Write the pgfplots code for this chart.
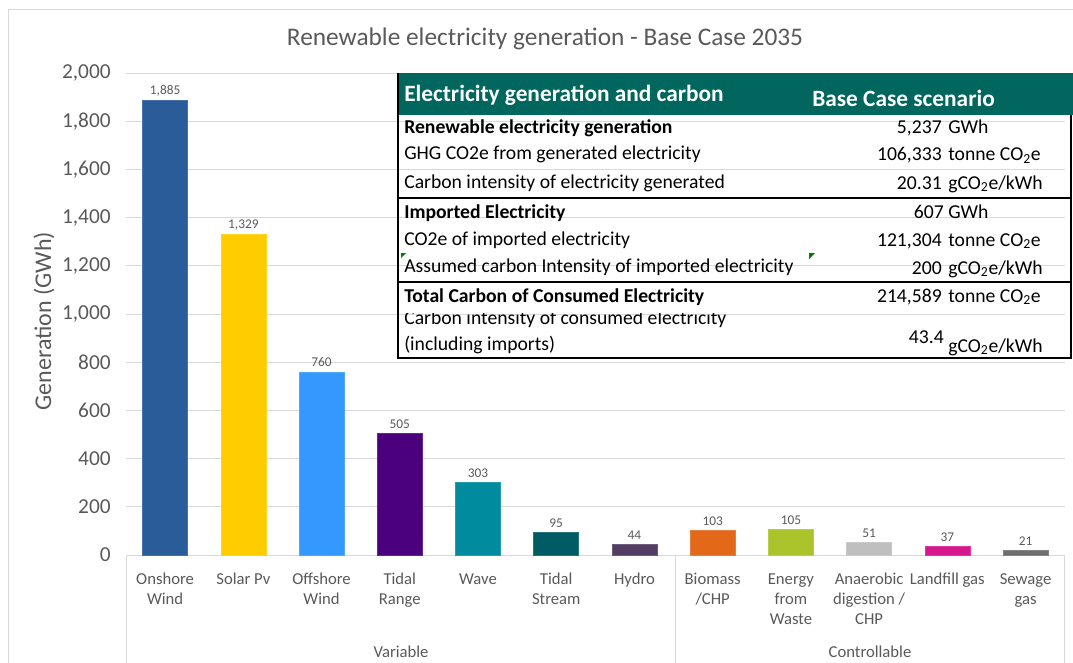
\documentclass[border=0pt]{standalone}
\usepackage{fontspec}
\setmainfont{Carlito}
\usepackage{pgfplots}
\pgfplotsset{compat=1.18}

\definecolor{txt}{RGB}{89,89,89}
\definecolor{gridc}{RGB}{217,217,217}
\definecolor{hdr}{RGB}{0,102,94}
\definecolor{cmt}{RGB}{0,128,0}
\definecolor{c1}{RGB}{42,92,154}
\definecolor{c2}{RGB}{255,204,0}
\definecolor{c3}{RGB}{51,153,255}
\definecolor{c4}{RGB}{75,0,126}
\definecolor{c5}{RGB}{0,140,158}
\definecolor{c6}{RGB}{0,92,100}
\definecolor{c7}{RGB}{82,62,100}
\definecolor{c8}{RGB}{226,104,26}
\definecolor{c9}{RGB}{172,196,44}
\definecolor{c10}{RGB}{191,191,191}
\definecolor{c11}{RGB}{214,24,140}
\definecolor{c12}{RGB}{110,110,110}

\begin{document}
\begin{tikzpicture}
\useasboundingbox (0,0) rectangle (804.75pt,-497.25pt);

\begin{axis}[at={(94.5pt,-416.25pt)}, anchor=south west,
    scale only axis, width=704pt, height=361.5pt,
    xmin=-0.5, xmax=11.5, ymin=0, ymax=2000,
    ybar, clip=false,
    every axis plot/.append style={bar shift=0pt, bar width=33.75pt, line width=0.5pt},
    axis line style={draw=none}, tick style={draw=none},
    ymajorgrids, grid style={gridc, line width=0.75pt},
    ytick={0,200,...,2000},
    /pgf/number format/1000 sep={,},
    /pgf/number format/assume math mode=true,
    yticklabel style={font=\fontsize{16}{19}\selectfont, text=txt, xshift=-8pt},
    xtick={0,...,11},
    xticklabels={Onshore\\Wind, Solar Pv, Offshore\\Wind, Tidal\\Range, Wave, Tidal\\Stream, Hydro,
        Biomass\\/CHP, Energy\\from\\Waste, Anaerobic\\digestion /\\CHP, Landfill gas, Sewage\\gas},
    xticklabel style={font=\fontsize{12.5}{15}\selectfont, text=txt, align=center, anchor=north, yshift=-6pt},
    nodes near coords,
    every node near coord/.append style={font=\fontsize{10}{12}\selectfont, text=txt},
]
\addplot[fill=c1, draw=c1!85!white] coordinates {(0,1885)};
\addplot[fill=c2, draw=c2!85!white] coordinates {(1,1329)};
\addplot[fill=c3, draw=c3!85!white] coordinates {(2,760)};
\addplot[fill=c4, draw=c4!85!white] coordinates {(3,505)};
\addplot[fill=c5, draw=c5!85!white] coordinates {(4,303)};
\addplot[fill=c6, draw=c6!85!white] coordinates {(5,95)};
\addplot[fill=c7, draw=c7!85!white] coordinates {(6,44)};
\addplot[fill=c8, draw=c8!85!white] coordinates {(7,103)};
\addplot[fill=c9, draw=c9!85!white] coordinates {(8,105)};
\addplot[fill=c10, draw=c10!85!white] coordinates {(9,51)};
\addplot[fill=c11, draw=c11!85!white] coordinates {(10,37)};
\addplot[fill=c12, draw=c12!85!white] coordinates {(11,21)};
\end{axis}

\begin{scope}[x=0.75pt,y=0.75pt]
% outer chart frame
\draw[gridc, line width=0.75pt] (8,-663) -- (8,-10) -- (1073,-10);

% category groups
\draw[gridc, line width=0.75pt] (126,-555) -- (126,-663) (675,-555) -- (675,-663) (1064.5,-555) -- (1064.5,-663);
\node[text=txt, font=\fontsize{12.5}{15}\selectfont] at (401,-652) {Variable};
\node[text=txt, font=\fontsize{12.5}{15}\selectfont] at (870,-652) {Controllable};

% titles
\node[text=txt, font=\fontsize{19}{22}\selectfont] at (545,-39) {Renewable electricity generation - Base Case 2035};
\node[text=txt, font=\fontsize{18}{21}\selectfont, rotate=90] at (44,-321) {Generation (GWh)};

% summary table
\fill[hdr] (398,-73) rectangle (1073,-115);
\node[anchor=west, inner sep=0, text=white, font=\bfseries\fontsize{17.5}{20}\selectfont] at (404,-95) {Electricity generation and carbon};
\node[anchor=west, inner sep=0, text=white, font=\bfseries\fontsize{17.5}{20}\selectfont] at (812,-98) {Base Case scenario};
\draw[black, line width=1pt] (398,-73) -- (398,-358) -- (1071,-358) -- (1071,-115);
\draw[black, line width=1pt] (398,-198) -- (1071,-198) (398,-282) -- (1071,-282);

\begin{scope}[every node/.style={inner sep=0, font=\fontsize{14.75}{17}\selectfont}]
\node[anchor=base west, font=\bfseries\fontsize{14.75}{17}\selectfont] at (404,-134) {Renewable electricity generation};
\node[anchor=base east] at (942,-134) {5,237};
\node[anchor=base west] at (948,-134) {GWh};
\node[anchor=base west] at (404,-160) {GHG CO2e from generated electricity};
\node[anchor=base east] at (942,-161) {106,333};
\node[anchor=base west] at (948,-161) {tonne CO\textsubscript{2}e};
\node[anchor=base west] at (404,-188) {Carbon intensity of electricity generated};
\node[anchor=base east] at (942,-189) {20.31};
\node[anchor=base west] at (948,-189) {gCO\textsubscript{2}e/kWh};

\node[anchor=base west, font=\bfseries\fontsize{14.75}{17}\selectfont] at (404,-218) {Imported Electricity};
\node[anchor=base east] at (944,-218) {607};
\node[anchor=base west] at (948,-218) {GWh};
\node[anchor=base west] at (404,-245) {CO2e of imported electricity};
\node[anchor=base east] at (942,-246) {121,304};
\node[anchor=base west] at (948,-246) {tonne CO\textsubscript{2}e};
\node[anchor=base west] at (404,-272) {Assumed carbon Intensity of imported electricity};
\node[anchor=base east] at (942,-274) {200};
\node[anchor=base west] at (948,-274) {gCO\textsubscript{2}e/kWh};

\node[anchor=base west, font=\bfseries\fontsize{14.75}{17}\selectfont] at (404,-302) {Total Carbon of Consumed Electricity};
\node[anchor=base east] at (942,-302) {214,589};
\node[anchor=base west] at (948,-302) {tonne CO\textsubscript{2}e};
\node[anchor=base west] at (404,-350) {(including imports)};
\node[anchor=base east] at (944,-343) {43.4};
\node[anchor=base west] at (948,-352) {gCO\textsubscript{2}e/kWh};
\end{scope}
\begin{scope}
\clip (398,-313) rectangle (1071,-340);
\node[anchor=base west, inner sep=0, font=\fontsize{14.75}{17}\selectfont] at (404,-324) {Carbon intensity of consumed electricity};
\end{scope}

% comment markers
\fill[cmt] (401,-253) -- (406,-253) -- (401,-258) -- cycle;
\fill[cmt] (809,-253) -- (815,-253) -- (809,-259) -- cycle;
\end{scope}
\end{tikzpicture}
\end{document}
